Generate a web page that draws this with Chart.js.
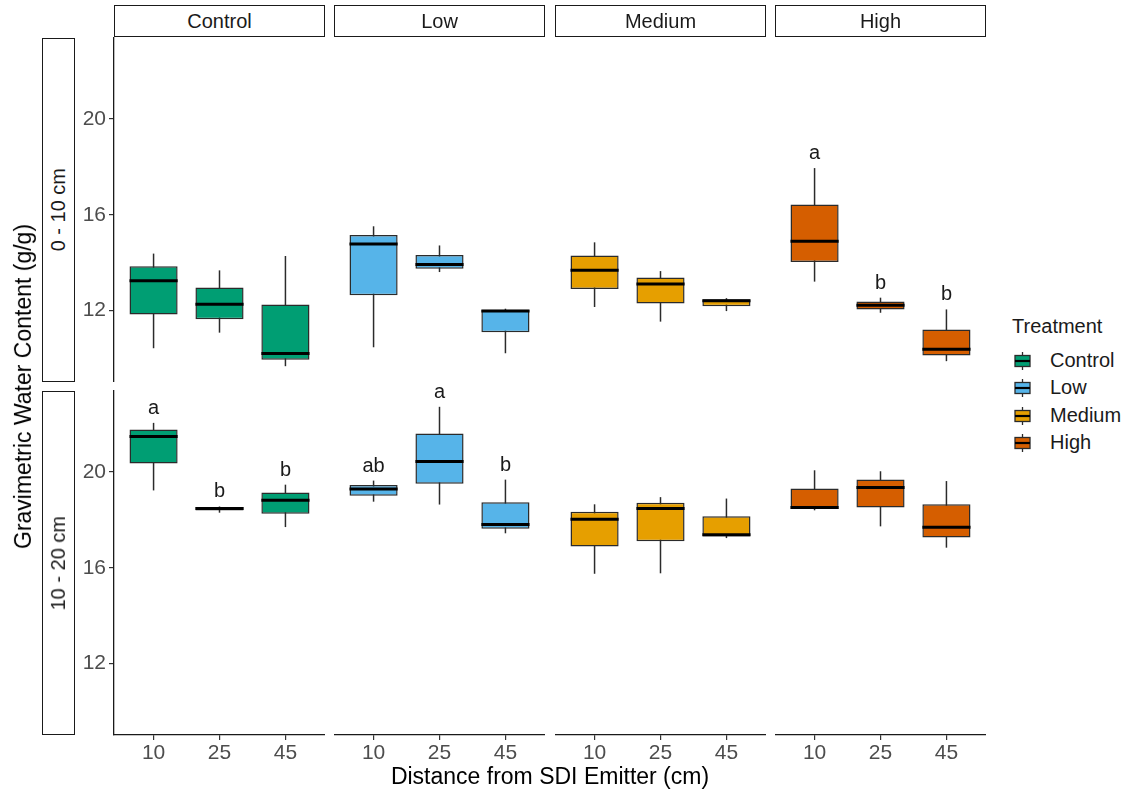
<!DOCTYPE html>
<html><head><meta charset="utf-8">
<script src="https://cdn.jsdelivr.net/npm/chart.js@4"></script>
<style>
html,body{margin:0;padding:0;background:#fff;}
#wrap{position:relative;width:1128px;height:794px;overflow:hidden;font-family:"Liberation Sans",Arial,sans-serif;color:#1a1a1a;}
.strip{position:absolute;box-sizing:border-box;border:1.3px solid #1a1a1a;background:#fff;display:flex;align-items:center;justify-content:center;font-size:20px;color:#1a1a1a;}
.vtext{writing-mode:vertical-rl;transform:rotate(180deg);white-space:nowrap;}
.lbl{position:absolute;white-space:nowrap;}
canvas{display:block;}
</style></head><body><div id="wrap"></div>
<script>
// ---------- data ----------
const treatments = ['Control','Low','Medium','High'];
const depths = ['0 - 10 cm','10 - 20 cm'];
const distances = ['10','25','45'];
const yTickValues = [12,16,20];
const treatmentColors = ['#009E73','#56B4E9','#E69F00','#D55E00'];

// 0 - 10 cm : one row per treatment, one value per distance (10, 25, 45)
const minShallow = [[10.43,11.08,9.68],[10.47,13.61,10.22],[12.15,11.54,11.98],[13.21,11.91,9.89]];
const q1Shallow  = [[11.84,11.64,9.95],[12.64,13.75,11.10],[12.90,12.30,12.18],[14.03,12.05,10.13]];
const medShallow = [[13.25,12.27,10.21],[14.78,13.92,11.98],[13.69,13.11,12.41],[14.90,12.22,10.39]];
const q3Shallow  = [[13.85,12.97,12.25],[15.16,14.32,12.04],[14.30,13.38,12.47],[16.43,12.38,11.21]];
const maxShallow = [[14.38,13.68,14.28],[15.52,14.72,12.08],[14.85,13.65,12.52],[17.95,12.54,12.05]];
const lettersShallow = [['','',''],['','',''],['','',''],['a','b','b']];

// 10 - 20 cm
const minDeep = [[19.23,18.30,17.70],[18.76,18.64,17.44],[15.75,15.77,17.24],[18.40,17.73,16.84]];
const q1Deep  = [[20.35,18.39,18.26],[19.01,19.51,17.63],[16.89,17.11,17.31],[18.45,18.52,17.26]];
const medDeep = [[21.48,18.47,18.82],[19.29,20.44,17.81],[18.03,18.48,17.38],[18.52,19.35,17.69]];
const q3Deep  = [[21.77,18.54,19.14],[19.46,21.61,18.74],[18.34,18.72,18.15],[19.31,19.69,18.65]];
const maxDeep = [[22.05,18.56,19.47],[19.64,22.72,19.68],[18.65,18.95,18.89],[20.07,20.03,19.62]];
const lettersDeep = [['a','b','b'],['ab','a','b'],['','',''],['','','']];

// ---------- layout ----------
const wrap = document.getElementById('wrap');
const panelLeft = [114, 334, 555, 775], panelW = 211;
const rowTop = [38, 391], panelH = 344;
const yAxisW = 60, xAxisH = 50, padTop = 14;
const Y_MIN = 9.02, Y_MAX = 23.38;
const FONT = '"Liberation Sans", Arial, sans-serif';

function el(html, style, cls) {
  const d = document.createElement('div');
  if (cls) d.className = cls;
  d.style.cssText = style;
  d.innerHTML = html;
  wrap.appendChild(d);
  return d;
}

const boxPlugin = {
  id: 'boxstats',
  beforeDatasetsDraw(chart, args, opts) {
    const s = opts.stats, ctx = chart.ctx, xs = chart.scales.x, ys = chart.scales.y;
    ctx.save();
    ctx.strokeStyle = '#2b2b2b'; ctx.lineWidth = 1.5;
    distances.forEach((d, i) => {
      const px = xs.getPixelForValue(i + 1);
      ctx.beginPath();
      ctx.moveTo(px, ys.getPixelForValue(s.min[i]));
      ctx.lineTo(px, ys.getPixelForValue(s.max[i]));
      ctx.stroke();
    });
    ctx.restore();
  },
  afterDatasetsDraw(chart, args, opts) {
    const s = opts.stats, ctx = chart.ctx, ys = chart.scales.y;
    const meta = chart.getDatasetMeta(0);
    ctx.save();
    meta.data.forEach((bar, i) => {
      const half = bar.width / 2;
      const py = ys.getPixelForValue(s.med[i]);
      ctx.strokeStyle = '#000'; ctx.lineWidth = 3;
      ctx.beginPath(); ctx.moveTo(bar.x - half, py); ctx.lineTo(bar.x + half, py); ctx.stroke();
      if (s.letters[i]) {
        ctx.fillStyle = '#1a1a1a';
        ctx.font = '20px ' + FONT;
        ctx.textAlign = 'center'; ctx.textBaseline = 'alphabetic';
        ctx.fillText(s.letters[i], bar.x, ys.getPixelForValue(s.max[i]) - 9);
      }
    });
    ctx.restore();
  }
};

depths.forEach((depth, r) => {
  const src = r === 0
    ? {min: minShallow, q1: q1Shallow, med: medShallow, q3: q3Shallow, max: maxShallow, letters: lettersShallow}
    : {min: minDeep, q1: q1Deep, med: medDeep, q3: q3Deep, max: maxDeep, letters: lettersDeep};
  treatments.forEach((t, c) => {
    const hasY = c === 0, hasX = r === 1;
    const w = panelW + (hasY ? yAxisW : 0), h = padTop + panelH + (hasX ? xAxisH : 0);
    const holder = el('', `position:absolute;left:${panelLeft[c] - (hasY ? yAxisW : 0)}px;top:${rowTop[r] - padTop}px;width:${w}px;height:${h}px;`);
    const cv = document.createElement('canvas');
    cv.width = w; cv.height = h; cv.style.width = w + 'px'; cv.style.height = h + 'px';
    holder.appendChild(cv);
    const stats = {min: src.min[c], q1: src.q1[c], med: src.med[c], q3: src.q3[c], max: src.max[c], letters: src.letters[c]};
    new Chart(cv, {
      type: 'bar',
      data: {
        datasets: [{
          data: distances.map((d, i) => ({x: i + 1, y: [stats.q1[i], stats.q3[i]]})),
          backgroundColor: treatmentColors[c],
          borderColor: '#2b2b2b',
          borderWidth: 1.5,
          borderSkipped: false,
          barPercentage: 0.73,
          categoryPercentage: 1
        }]
      },
      options: {
        responsive: false,
        devicePixelRatio: 1,
        animation: false,
        layout: {padding: {top: padTop, left: 0, right: 0, bottom: 0}},
        plugins: {legend: {display: false}, tooltip: {enabled: false}, boxstats: {stats}},
        scales: {
          x: {
            type: 'linear', min: 0.4, max: 3.6, offset: false,
            display: hasX,
            afterBuildTicks: s => { s.ticks = distances.map((d, i) => ({value: i + 1})); },
            ticks: {callback: v => distances[Math.round(v) - 1] || '', font: {size: 21, family: FONT}, color: '#4d4d4d', padding: 1, maxRotation: 0, autoSkip: false},
            grid: {display: true, offset: false, drawOnChartArea: false, drawTicks: true, tickLength: 5, color: '#333', lineWidth: 1.2},
            border: {display: true, color: '#1a1a1a', width: 1.3},
            afterFit: s => { s.height = hasX ? xAxisH : 0; s.paddingLeft = 0; s.paddingRight = 0; s.paddingTop = 0; s.paddingBottom = 0; }
          },
          y: {
            type: 'linear', min: Y_MIN, max: Y_MAX,
            display: hasY,
            afterBuildTicks: s => { s.ticks = yTickValues.map(v => ({value: v})); },
            ticks: {font: {size: 21, family: FONT}, color: '#4d4d4d', padding: 3},
            grid: {display: true, offset: false, drawOnChartArea: false, drawTicks: true, tickLength: 5, color: '#333', lineWidth: 1.2},
            border: {display: true, color: '#1a1a1a', width: 1.3},
            afterFit: s => { s.width = hasY ? yAxisW : 0; s.paddingTop = 0; s.paddingBottom = 0; s.paddingLeft = 0; s.paddingRight = 0; }
          }
        }
      },
      plugins: [boxPlugin]
    });
  });
});

// facet strips (columns)
treatments.forEach((t, c) => {
  el(t, `left:${panelLeft[c]}px;top:5px;width:${panelW}px;height:32px;`, 'strip');
});
// facet strips (rows)
depths.forEach((d, r) => {
  el(`<span class="vtext">${d}</span>`, `left:42px;top:${rowTop[r]}px;width:33px;height:${panelH}px;`, 'strip');
});

// axis titles
el('Distance from SDI Emitter (cm)', `left:${panelLeft[0]}px;top:763px;width:${panelLeft[3] + panelW - panelLeft[0]}px;text-align:center;font-size:23px;color:#000;`, 'lbl');
el('<span class="vtext">Gravimetric Water Content (g/g)</span>', `left:8px;top:${rowTop[0]}px;width:30px;height:${rowTop[1] + panelH - rowTop[0]}px;display:flex;align-items:center;justify-content:center;font-size:23px;color:#000;`, 'lbl');

// legend
el('Treatment', 'left:1012px;top:315px;font-size:20px;color:#1a1a1a;', 'lbl');
const legendY = [361, 388, 415.5, 442.5];
treatments.forEach((t, i) => {
  const g = document.createElement('canvas');
  g.width = 22; g.height = 22;
  g.style.cssText = `position:absolute;left:1011px;top:${legendY[i] - 11}px;`;
  wrap.appendChild(g);
  const ctx = g.getContext('2d');
  ctx.strokeStyle = '#2b2b2b'; ctx.lineWidth = 1.3;
  ctx.beginPath(); ctx.moveTo(11.5, 2); ctx.lineTo(11.5, 20); ctx.stroke();
  ctx.fillStyle = treatmentColors[i];
  ctx.fillRect(4, 5.5, 15, 11);
  ctx.strokeRect(4, 5.5, 15, 11);
  ctx.strokeStyle = '#000'; ctx.lineWidth = 2.2;
  ctx.beginPath(); ctx.moveTo(4, 11); ctx.lineTo(19, 11); ctx.stroke();
  el(t, `left:1050px;top:${legendY[i] - 12}px;font-size:20px;color:#1a1a1a;`, 'lbl');
});
</script></body></html>
